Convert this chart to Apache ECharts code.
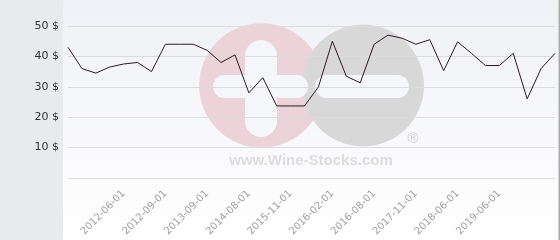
<!DOCTYPE html>
<html>
<head>
<meta charset="utf-8">
<script src="https://cdn.jsdelivr.net/npm/echarts@6/dist/echarts.min.js"></script>
<style>html,body{margin:0;padding:0;background:#fff;}#c{width:560px;height:240px;}</style>
</head>
<body>
<div id="c"></div>
<script>
// Categories (only labelled dates are known; others are blank)
const categories = ['', '', '', '', '2012-06-01', '', '', '2012-09-01', '', '', '2013-09-01', '', '',
  '2014-08-01', '', '', '2015-11-01', '', '', '2016-02-01', '', '', '2016-08-01', '', '',
  '2017-11-01', '', '', '2018-06-01', '', '', '2019-06-01', '', '', '', ''];
const prices = [43, 36, 34.5, 36.5, 37.5, 38, 35, 44, 44, 44, 42, 38, 40.5, 28, 33, 23.7, 23.7, 23.7,
  30, 45, 33.5, 31.3, 44, 47, 46, 44, 45.5, 35.3, 44.8, 41, 37, 37, 41, 26, 36, 41];
const yTicks = [0, 10, 20, 30, 40, 50, 60];

const chart = echarts.init(document.getElementById('c'), null, {renderer: 'canvas'});
const Z = -10;
chart.setOption({
  animation: false,
  backgroundColor: '#ffffff',
  graphic: {
    elements: [
      {type: 'rect', z: Z, shape: {x: 0, y: 0, width: 63, height: 240}, style: {fill: '#e7ebee'}},
      {type: 'rect', z: Z, shape: {x: 63, y: 0, width: 495, height: 240},
        style: {fill: new echarts.graphic.LinearGradient(0, 0, 0, 1, [{offset: 0, color: '#f0f1f6'}, {offset: 1, color: '#ffffff'}])}},
      {type: 'rect', z: Z, shape: {x: 558.5, y: 0, width: 1.5, height: 240}, style: {fill: '#a8a8a8'}},
      {type: 'circle', z: Z, shape: {cx: 261.5, cy: 85.5, r: 62.3}, style: {fill: '#ebd3d9'}},
      {type: 'circle', z: Z, shape: {cx: 363, cy: 85.5, r: 61}, style: {fill: '#d8d8d9'}},
      {type: 'rect', z: Z, shape: {x: 245, y: 40, width: 32, height: 97, r: 16}, style: {fill: '#f5f6f9'}},
      {type: 'rect', z: Z, shape: {x: 213, y: 75, width: 95, height: 23, r: 11.5}, style: {fill: '#f5f6f9'}},
      {type: 'rect', z: Z, shape: {x: 315, y: 75, width: 94, height: 23, r: 11.5}, style: {fill: '#f5f6f9'}},
      {type: 'text', z: Z, style: {x: 311, y: 161, text: 'www.Wine-Stocks.com', fill: '#dddddd',
        font: 'bold 15px "Liberation Sans", Arial, sans-serif', textAlign: 'center', textVerticalAlign: 'middle'}},
      {type: 'text', z: Z, style: {x: 413, y: 139, text: '®', fill: '#cfcfcf',
        font: '15px "Liberation Sans", Arial, sans-serif', textAlign: 'center', textVerticalAlign: 'middle'}}
    ]
  },
  grid: {left: 68, right: 5, top: -4.4, bottom: 62, containLabel: false, outerBoundsMode: 'none'},
  xAxis: {
    type: 'category',
    data: categories,
    boundaryGap: false,
    axisLine: {show: false},
    axisTick: {show: false},
    splitLine: {show: false},
    axisLabel: {
      interval: function (i, v) { return v !== ''; },
      rotate: 45, margin: 14, color: '#a0a0a0', fontSize: 10, fontFamily: 'DejaVu Sans'
    }
  },
  yAxis: {
    type: 'value',
    min: yTicks[0], max: yTicks[yTicks.length - 1], interval: 10,
    axisLine: {show: false},
    axisTick: {show: false},
    splitLine: {lineStyle: {color: '#dcdcdc', width: 1}},
    axisLabel: {
      showMinLabel: false, showMaxLabel: false, margin: 9,
      formatter: '{value} $', color: '#333333', fontSize: 11, fontFamily: 'DejaVu Sans'
    }
  },
  series: [{
    type: 'line',
    data: prices,
    symbol: 'none',
    lineStyle: {color: '#2e1a24', width: 1},
    z: 5
  }]
});
</script>
</body>
</html>
